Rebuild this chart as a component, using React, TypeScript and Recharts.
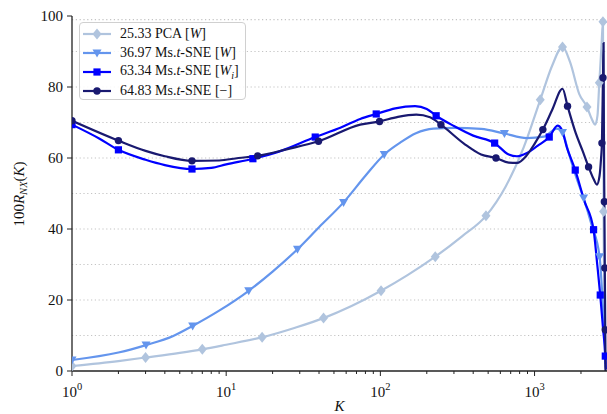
import React from 'react';
import { LineChart, Line, XAxis, YAxis, Legend, ReferenceLine } from 'recharts';

const FONT = '"Liberation Serif", "DejaVu Serif", serif';

// PCA [W]
const pcaK = [1, 2, 3, 5, 7, 10, 17.1, 28, 42.8, 65, 101, 150, 227, 340, 484, 650, 850, 1089, 1300, 1518, 1700, 1950, 2188, 2350, 2475, 2560, 2630, 2720, 2777, 2795, 2803, 2840, 2880];
const pcaV = [1.4, 2.8, 3.8, 5.1, 6.1, 7.4, 9.5, 12.2, 14.9, 18.3, 22.6, 27, 32.2, 38, 43.7, 52, 63, 76.4, 86, 91.3, 87, 78, 74.4, 71, 69.4, 72, 81.2, 92, 98.4, 70, 44.9, 20, 1];
const pcaM = [1, 0, 1, 0, 1, 0, 1, 0, 1, 0, 1, 0, 1, 0, 1, 0, 0, 1, 0, 1, 0, 0, 1, 0, 0, 0, 1, 0, 1, 0, 1, 0, 0];

// Ms.t-SNE [W]
const tsneWK = [1, 2, 3.02, 4.5, 6.06, 9, 14, 20, 29, 40, 57.7, 80, 106, 135, 170, 221, 300, 450, 638, 890, 1150, 1396, 1518, 1650, 1850, 2080, 2350, 2641, 2760, 2850, 2880];
const tsneWV = [3.1, 5.2, 7.3, 9.8, 12.7, 17, 22.6, 28, 34.3, 40.5, 47.5, 55, 61, 64.4, 67, 68.3, 68.5, 68.2, 66.9, 65.6, 66, 68.3, 67.2, 62, 55, 48.7, 41, 32.2, 20, 8, 2];
const tsneWM = [1, 0, 1, 0, 1, 0, 1, 0, 1, 0, 1, 0, 1, 0, 0, 0, 0, 0, 1, 0, 0, 0, 1, 0, 0, 1, 0, 1, 0, 0, 0];

// Ms.t-SNE [W_i]
const tsneWiK = [1, 1.5, 2, 3, 4, 6, 8, 10, 14.9, 22, 37.8, 55, 74, 94, 125, 168, 200, 230, 300, 400, 551, 680, 769, 900, 1050, 1245, 1410, 1500, 1620, 1836, 2100, 2414, 2550, 2667, 2780, 2876, 2900];
const tsneWiV = [69.4, 65.5, 62.3, 59.5, 58, 56.9, 57.2, 58.2, 59.8, 61.8, 65.9, 68.5, 71, 72.4, 74, 74.6, 73.8, 71.9, 69, 66.3, 64.2, 61, 60.5, 61.5, 63.5, 65.9, 69.1, 68, 63, 56.6, 48, 39.8, 30, 21.4, 12, 4.2, 0.5];
const tsneWiM = [1, 0, 1, 0, 0, 1, 0, 0, 1, 0, 1, 0, 0, 1, 0, 0, 0, 1, 0, 0, 1, 0, 0, 0, 0, 1, 0, 0, 0, 1, 0, 1, 0, 1, 0, 1, 0];

// Ms.t-SNE [-]
const tsneK = [1, 2, 3, 4, 6, 9, 12, 16, 25, 39.7, 74, 98.8, 130, 171, 210, 247, 350, 450, 562, 680, 769, 880, 1000, 1132, 1300, 1518, 1637, 1850, 2050, 2240, 2420, 2536, 2640, 2700, 2735, 2777, 2803, 2815, 2836, 2855, 2874, 2885];
const tsneV = [70.5, 64.9, 62, 60.5, 59.2, 59.3, 60, 60.6, 62.5, 64.7, 69.4, 70.3, 71.6, 72.2, 71.5, 69.4, 64, 61, 60, 58.7, 58.6, 60.5, 64, 68, 73.5, 79.5, 74.6, 67, 62, 57.5, 54, 52.5, 55, 60, 64.2, 82.6, 92.4, 70, 47.7, 29, 11.6, 0];
const tsneM = [1, 1, 0, 0, 1, 0, 0, 1, 0, 1, 0, 1, 0, 0, 0, 1, 0, 0, 1, 0, 0, 0, 0, 1, 0, 0, 1, 0, 0, 1, 0, 0, 0, 0, 1, 1, 0, 0, 1, 1, 1, 0];

const xTicks = [1, 2, 3, 4, 5, 6, 7, 8, 9, 10, 20, 30, 40, 50, 60, 70, 80, 90, 100, 200, 300, 400, 500, 600, 700, 800, 900, 1000, 2000];
const majorTicks = [1, 10, 100, 1000];
const yTicks = [0, 20, 40, 60, 80, 100];
const guideLevels = [10, 20, 30, 40, 50, 60, 70, 80, 90, 99];

const build = (ks: number[], vs: number[], ms: number[]) =>
  ks.map((k, i) => ({ k, v: vs[i], m: ms[i] === 1 }));

const series = [
  { name: 'pca', color: '#b0c4de', shape: 'diamond', data: build(pcaK, pcaV, pcaM), label: <>25.33 PCA [<i>W</i>]</> },
  { name: 'tsneW', color: '#6495ed', shape: 'tri', data: build(tsneWK, tsneWV, tsneWM), label: <>36.97 Ms.<i>t</i>-SNE [<i>W</i>]</> },
  { name: 'tsneWi', color: '#0000ff', shape: 'square', data: build(tsneWiK, tsneWiV, tsneWiM), label: <>63.34 Ms.<i>t</i>-SNE [<i>W<sub style={{ fontSize: 10 }}>i</sub></i>]</> },
  { name: 'tsne', color: '#191970', shape: 'circle', data: build(tsneK, tsneV, tsneM), label: <>64.83 Ms.<i>t</i>-SNE [−]</> },
];

function Marker({ shape, cx, cy, color }: { shape: string; cx: number; cy: number; color: string }) {
  if (shape === 'diamond')
    return <polygon points={`${cx},${cy - 5.5} ${cx + 4.5},${cy} ${cx},${cy + 5.5} ${cx - 4.5},${cy}`} fill={color} />;
  if (shape === 'tri')
    return <polygon points={`${cx - 4.5},${cy - 3.5} ${cx + 4.5},${cy - 3.5} ${cx},${cy + 4.5}`} fill={color} />;
  if (shape === 'square') return <rect x={cx - 3.6} y={cy - 3.6} width={7.2} height={7.2} fill={color} />;
  return <circle cx={cx} cy={cy} r={3.7} fill={color} />;
}

const XTick = (props: any) => {
  const { x, y, payload } = props;
  const major = majorTicks.includes(payload.value);
  const exp = Math.round(Math.log10(payload.value));
  return (
    <g>
      <line x1={x} x2={x} y1={y} y2={y + (major ? 5 : 3)} stroke="#222" strokeWidth={1} />
      {major && (
        <text x={x} y={y + 26} textAnchor="middle" fontSize={15} fontFamily={FONT} fill="#111">
          10<tspan dy={-7} fontSize={10.5}>{exp}</tspan>
        </text>
      )}
    </g>
  );
};

const YTick = (props: any) => {
  const { x, y, payload } = props;
  return (
    <g>
      <line x1={x - 5} x2={x} y1={y} y2={y} stroke="#222" strokeWidth={1} />
      <text x={x - 9} y={y + 5} textAnchor="end" fontSize={15} fontFamily={FONT} fill="#111">
        {payload.value}
      </text>
    </g>
  );
};

const renderLegend = () => (
  <div
    style={{
      width: 167,
      height: 78,
      border: '1px solid #d0d0d0',
      borderRadius: 4,
      background: 'rgba(255,255,255,0.85)',
      boxSizing: 'border-box',
      paddingTop: 1,
      fontFamily: FONT,
      fontSize: 14,
      color: '#111',
    }}
  >
    {series.map((s) => (
      <div key={s.name} style={{ height: 19, display: 'flex', alignItems: 'center', whiteSpace: 'nowrap' }}>
        <svg width={38} height={16} style={{ flex: 'none' }}>
          <line x1={3} x2={31} y1={8} y2={8} stroke={s.color} strokeWidth={2.2} />
          <Marker shape={s.shape} cx={17} cy={8} color={s.color} />
        </svg>
        <span style={{ marginLeft: 2 }}>{s.label}</span>
      </div>
    ))}
  </div>
);

const XLabel = (props: any) => {
  const { viewBox } = props;
  return (
    <text x={viewBox.x + viewBox.width / 2} y={411} textAnchor="middle" fontSize={15} fontStyle="italic" fontFamily={FONT} fill="#111">
      K
    </text>
  );
};

const YLabel = () => (
  <text transform="translate(24,194) rotate(-90)" textAnchor="middle" fontSize={15} fontFamily={FONT} fill="#111">
    100<tspan fontStyle="italic">R</tspan>
    <tspan fontStyle="italic" fontSize={10.5} dy={3}>NX</tspan>
    <tspan dy={-3}>(</tspan>
    <tspan fontStyle="italic">K</tspan>)
  </text>
);

export default function App() {
  return (
    <div style={{ position: 'absolute', left: 0, top: 0, background: '#fff' }}>
      <LineChart width={607} height={414} margin={{ top: 16, right: 0, bottom: 0, left: 0 }}>
        <XAxis
          dataKey="k"
          type="number"
          scale="log"
          domain={[1, 2950]}
          allowDataOverflow
          ticks={xTicks}
          interval={0}
          tick={<XTick />}
          tickLine={false}
          tickSize={0}
          tickMargin={0}
          height={43}
          axisLine={{ stroke: '#222', strokeWidth: 1.3 }}
          label={<XLabel />}
        />
        <YAxis
          type="number"
          domain={[0, 100]}
          ticks={yTicks}
          interval={0}
          tick={<YTick />}
          tickLine={false}
          tickSize={0}
          tickMargin={0}
          width={72}
          axisLine={{ stroke: '#222', strokeWidth: 1.3 }}
          label={<YLabel />}
        />
        {guideLevels.map((lv) => (
          <ReferenceLine key={lv} y={lv} stroke="#c4c4c4" strokeWidth={1.2} strokeDasharray="1.2 2.6" />
        ))}
        <Legend
          content={renderLegend}
          layout="horizontal"
          verticalAlign="middle"
          align="center"
          wrapperStyle={{ position: 'absolute', left: 79, top: 22, width: 167, height: 78 }}
        />
        {series.map((s) => (
          <Line
            key={s.name}
            data={s.data}
            dataKey="v"
            type="monotone"
            stroke={s.color}
            strokeWidth={2.2}
            isAnimationActive={false}
            dot={(p: any) =>
              p.payload.m ? (
                <Marker key={`${s.name}-${p.index}`} shape={s.shape} cx={p.cx} cy={p.cy} color={s.color} />
              ) : (
                <g key={`${s.name}-${p.index}`} />
              )
            }
            activeDot={false}
          />
        ))}
      </LineChart>
    </div>
  );
}
